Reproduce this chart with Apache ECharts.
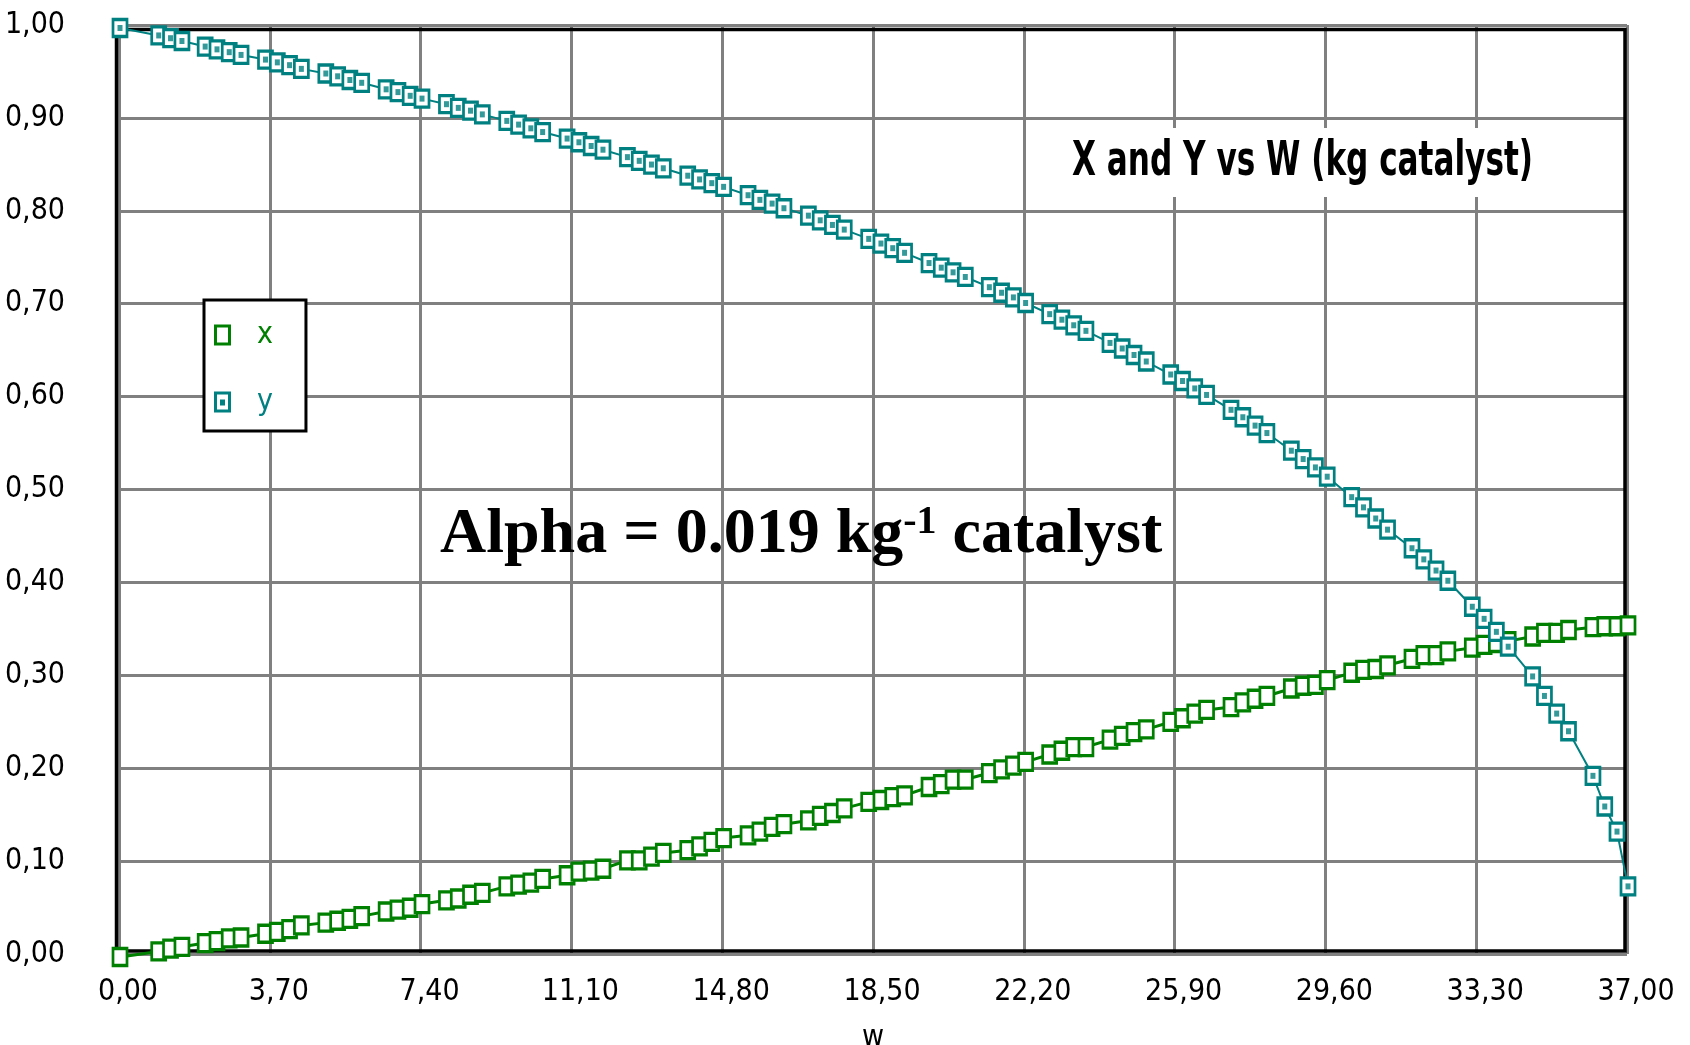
<!DOCTYPE html>
<html>
<head>
<meta charset="utf-8">
<script src="https://cdn.jsdelivr.net/npm/echarts@6/dist/echarts.min.js"></script>
<style>
  html, body { margin: 0; padding: 0; background: #fff; }
  #chart { width: 1690px; height: 1045px; }
</style>
</head>
<body>
<div id="chart"></div>
<script>
// Catalyst weight W (kg) at each solver output point
const W = [
  0.00,
  0.95, 1.24, 1.52,
  2.09, 2.38, 2.68, 2.97,
  3.57, 3.86, 4.16, 4.45,
  5.05, 5.34, 5.64, 5.93,
  6.53, 6.82, 7.12, 7.41,
  8.01, 8.30, 8.60, 8.89,
  9.49, 9.78, 10.08, 10.37,
  10.97, 11.26, 11.56, 11.85,
  12.45, 12.74, 13.04, 13.33,
  13.93, 14.22, 14.52, 14.81,
  15.41, 15.70, 16.00, 16.29,
  16.89, 17.18, 17.48, 17.77,
  18.37, 18.67, 18.96, 19.25,
  19.85, 20.15, 20.44, 20.74,
  21.33, 21.63, 21.92, 22.22,
  22.81, 23.11, 23.40, 23.70,
  24.29, 24.59, 24.88, 25.18,
  25.78, 26.07, 26.37, 26.66,
  27.26, 27.55, 27.85, 28.14,
  28.74, 29.03, 29.33, 29.62,
  30.22, 30.51, 30.81, 31.10,
  31.70, 31.99, 32.29, 32.58,
  33.18, 33.47, 33.77, 34.06,
  34.66, 34.95, 35.25, 35.54,
  36.14, 36.43, 36.73, 37.00
];

// Conversion x
const X = [
  0.000,
  0.006, 0.009, 0.011,
  0.015, 0.017, 0.020, 0.021,
  0.025, 0.027, 0.030, 0.034,
  0.037, 0.039, 0.041, 0.044,
  0.049, 0.051, 0.053, 0.057,
  0.061, 0.063, 0.067, 0.069,
  0.076, 0.078, 0.080, 0.084,
  0.088, 0.092, 0.093, 0.095,
  0.104, 0.104, 0.108, 0.112,
  0.115, 0.119, 0.124, 0.128,
  0.131, 0.135, 0.140, 0.143,
  0.147, 0.152, 0.155, 0.160,
  0.167, 0.169, 0.172, 0.174,
  0.183, 0.186, 0.191, 0.191,
  0.198, 0.202, 0.206, 0.210,
  0.218, 0.222, 0.226, 0.226,
  0.234, 0.238, 0.242, 0.245,
  0.253, 0.257, 0.262, 0.266,
  0.269, 0.274, 0.278, 0.281,
  0.289, 0.292, 0.293, 0.298,
  0.306, 0.309, 0.310, 0.314,
  0.321, 0.325, 0.325, 0.329,
  0.333, 0.336, 0.338, 0.340,
  0.345, 0.349, 0.349, 0.352,
  0.355, 0.356, 0.356, 0.357
];

// Pressure ratio y = P/P0
const Y = [
  1.000,
  0.992, 0.989, 0.986,
  0.980, 0.977, 0.974, 0.971,
  0.966, 0.963, 0.960, 0.956,
  0.951, 0.948, 0.944, 0.941,
  0.934, 0.931, 0.927, 0.924,
  0.918, 0.914, 0.911, 0.907,
  0.900, 0.896, 0.892, 0.888,
  0.881, 0.877, 0.873, 0.869,
  0.861, 0.857, 0.853, 0.849,
  0.841, 0.837, 0.833, 0.829,
  0.820, 0.815, 0.811, 0.806,
  0.798, 0.793, 0.788, 0.783,
  0.773, 0.768, 0.763, 0.758,
  0.747, 0.742, 0.737, 0.732,
  0.721, 0.715, 0.710, 0.704,
  0.692, 0.686, 0.680, 0.674,
  0.661, 0.655, 0.648, 0.641,
  0.627, 0.620, 0.612, 0.605,
  0.589, 0.581, 0.572, 0.564,
  0.545, 0.536, 0.527, 0.517,
  0.495, 0.484, 0.472, 0.460,
  0.440, 0.428, 0.416, 0.405,
  0.377, 0.364, 0.350, 0.334,
  0.302, 0.281, 0.262, 0.243,
  0.195, 0.162, 0.135, 0.076
];

// Axis ranges and tick steps
const W_MIN = 0, W_MAX = 37, W_STEP = 3.7;
const V_MIN = 0, V_MAX = 1, V_STEP = 0.1;

const TITLE = 'X and Y vs W (kg catalyst)';
const NOTE_MAIN = 'Alpha = 0.019 kg';
const NOTE_SUP = '-1';
const NOTE_TAIL = ' catalyst';

const GREEN = '#008000';
const TEAL = '#008080';
const GRID_GRAY = '#808080';
const NARROW = '"Liberation Sans Narrow", "DejaVu Sans Condensed", "Arial Narrow", sans-serif';
const SERIF = '"Liberation Serif", "DejaVu Serif", serif';

// Legend icons: open box for x, open box with centre dot for y
const ICON_X = 'path://M0,0H17V21H0Z M3,3V18H14V3Z';
const ICON_Y = 'path://M0,0H17V21H0Z M3,3V18H14V3Z M6,8H11V14H6Z';

const comma = v => Number(v).toFixed(2).replace('.', ',');

// Squeeze the pixel-style heading to its narrow width
function titleScale() {
  const c = document.createElement('canvas').getContext('2d');
  c.font = 'bold 48px ' + NARROW;
  const w = c.measureText(TITLE).width;
  return 461 / w;
}

const chart = echarts.init(document.getElementById('chart'), null, { renderer: 'canvas' });

const xyPoints = W.map((w, i) => [w, X[i]]);
const yPoints = W.map((w, i) => [w, Y[i]]);

chart.setOption({
  animation: false,
  backgroundColor: '#fff',
  grid: [
    { left: 119, top: 25, width: 1508, height: 929, containLabel: false, outerBoundsMode: 'none' },
    { left: 120, top: 28, width: 1508, height: 929, containLabel: false, outerBoundsMode: 'none' }
  ],
  xAxis: [
    {
      gridIndex: 0, type: 'value', min: W_MIN, max: W_MAX, interval: W_STEP,
      name: 'w', nameLocation: 'middle', nameGap: 69,
      nameTextStyle: { fontFamily: NARROW, fontSize: 30, color: '#000' },
      axisLine: { show: false }, axisTick: { show: false },
      splitLine: { show: true, lineStyle: { color: GRID_GRAY, width: 3 } },
      axisLabel: {
        fontFamily: NARROW, fontSize: 30, color: '#000', margin: 23,
        padding: [0, 0, 0, 18], formatter: comma
      }
    },
    {
      gridIndex: 1, type: 'value', min: W_MIN, max: W_MAX, interval: W_STEP,
      show: false, splitLine: { show: false }
    }
  ],
  yAxis: [
    {
      gridIndex: 0, type: 'value', min: V_MIN, max: V_MAX, interval: V_STEP,
      axisLine: { show: false }, axisTick: { show: false },
      splitLine: { show: true, lineStyle: { color: GRID_GRAY, width: 3 } },
      axisLabel: {
        fontFamily: NARROW, fontSize: 30, color: '#000', margin: 54,
        padding: [0, 0, 8, 0], formatter: comma
      }
    },
    {
      gridIndex: 1, type: 'value', min: V_MIN, max: V_MAX, interval: V_STEP,
      show: false, splitLine: { show: false }
    }
  ],
  legend: {
    orient: 'vertical', left: 204, top: 300,
    padding: [20, 33, 14, 10], itemGap: 37,
    itemWidth: 17, itemHeight: 21,
    backgroundColor: '#fff', borderColor: '#000', borderWidth: 3, borderRadius: 0,
    selectedMode: false,
    textStyle: { fontFamily: NARROW, fontSize: 30, padding: [0, 0, 0, 21] },
    data: [
      { name: 'x', icon: ICON_X, itemStyle: { color: GREEN, borderWidth: 0 }, textStyle: { color: GREEN } },
      { name: 'y', icon: ICON_Y, itemStyle: { color: TEAL, borderWidth: 0 }, textStyle: { color: TEAL } }
    ]
  },
  graphic: [
    {
      type: 'rect', z: 1, silent: true,
      shape: { x: 116.5, y: 29.5, width: 1508.5, height: 921.5 },
      style: { fill: null, stroke: '#000', lineWidth: 3.5 }
    },
    {
      type: 'rect', z: 5, silent: true,
      shape: { x: 1058, y: 128, width: 490, height: 69 },
      style: { fill: '#fff' }
    },
    {
      type: 'text', z: 6, silent: true,
      x: 1072, y: 163, scaleX: titleScale(), originX: 0,
      style: {
        text: TITLE, fill: '#000', font: 'bold 48px ' + NARROW,
        textAlign: 'left', textVerticalAlign: 'middle'
      }
    },
    {
      type: 'text', z: 6, silent: true,
      x: 440, y: 503,
      style: {
        text: '{a|' + NOTE_MAIN + '}{s|' + NOTE_SUP + '}{a|' + NOTE_TAIL + '}',
        textAlign: 'left', textVerticalAlign: 'top',
        rich: {
          a: { fontFamily: SERIF, fontWeight: 'bold', fontSize: 64, lineHeight: 64, color: '#000' },
          s: { fontFamily: SERIF, fontWeight: 'bold', fontSize: 40, lineHeight: 40, verticalAlign: 'top', color: '#000' }
        }
      }
    }
  ],
  series: [
    {
      name: 'x', type: 'line', xAxisIndex: 1, yAxisIndex: 1, data: xyPoints,
      symbol: 'rect', symbolSize: [14, 17], showAllSymbol: true,
      lineStyle: { color: GREEN, width: 3 },
      itemStyle: { color: '#fff', borderColor: GREEN, borderWidth: 3 },
      emphasis: { disabled: true }
    },
    {
      name: 'y', type: 'line', xAxisIndex: 1, yAxisIndex: 1, data: yPoints,
      symbol: 'rect', symbolSize: [14, 17], showAllSymbol: true,
      lineStyle: { color: TEAL, width: 2 },
      itemStyle: { color: '#fff', borderColor: TEAL, borderWidth: 3 },
      emphasis: { disabled: true }
    },
    {
      name: 'y', type: 'scatter', xAxisIndex: 1, yAxisIndex: 1, data: yPoints,
      symbol: 'rect', symbolSize: [5, 6], z: 3,
      itemStyle: { color: TEAL },
      emphasis: { disabled: true }
    }
  ]
});
</script>
</body>
</html>
